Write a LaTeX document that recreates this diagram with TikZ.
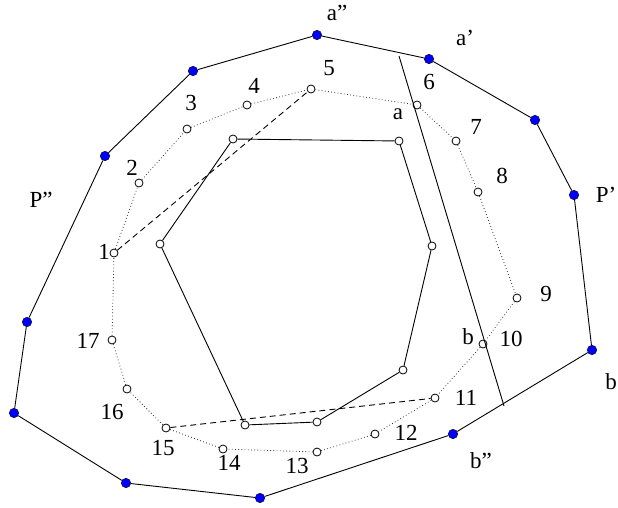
\documentclass[tikz,border=0pt]{standalone}
\usepackage{fontspec}
\setmainfont{Liberation Serif}
\begin{document}
\begin{tikzpicture}[x=1pt,y=-1pt,
 opendot/.style={circle,draw,fill=white,inner sep=0pt,minimum size=8pt,line width=0.8pt},
 bluedot/.style={circle,fill=blue,draw=black,line width=0.4pt,inner sep=0pt,minimum size=9.5pt},
 lbl/.style={font=\fontsize{23}{27}\selectfont,inner sep=0pt},
 edge/.style={line width=0.9pt},
 dotline/.style={line width=0.8pt,dash pattern=on 0.8pt off 2.4pt,draw=black!80},
 dashline/.style={line width=0.9pt,dash pattern=on 6pt off 4pt}]
\useasboundingbox (0,0) rectangle (618,508);
% outer polygon P''
\node[bluedot] (o1) at (317,35) {};
\node[bluedot] (o2) at (429,59) {};
\node[bluedot] (o3) at (535,120) {};
\node[bluedot] (o4) at (574,195) {};
\node[bluedot] (o5) at (592,350) {};
\node[bluedot] (o6) at (453,434) {};
\node[bluedot] (o7) at (260,498) {};
\node[bluedot] (o8) at (126,483) {};
\node[bluedot] (o9) at (14,413) {};
\node[bluedot] (o10) at (27,322) {};
\node[bluedot] (o11) at (105,156) {};
\node[bluedot] (o12) at (193,71) {};
\draw[edge] (o1)--(o2)--(o3)--(o4)--(o5)--(o6)--(o7)--(o8)--(o9)--(o10)--(o11)--(o12)--(o1);
% dotted polygon
\node[opendot] (p1) at (114,253) {};
\node[opendot] (p2) at (139,183) {};
\node[opendot] (p3) at (187,129) {};
\node[opendot] (p4) at (247,105) {};
\node[opendot] (p5) at (311,89) {};
\node[opendot] (p6) at (417,105) {};
\node[opendot] (p7) at (456,141) {};
\node[opendot] (p8) at (478,192) {};
\node[opendot] (p9) at (517,298) {};
\node[opendot] (p10) at (483,344) {};
\node[opendot] (p11) at (435,398) {};
\node[opendot] (p12) at (375,434) {};
\node[opendot] (p13) at (317,452) {};
\node[opendot] (p14) at (223,449) {};
\node[opendot] (p15) at (166,428) {};
\node[opendot] (p16) at (127,389) {};
\node[opendot] (p17) at (112,340) {};
\draw[dotline] (p1)--(p2)--(p3)--(p4)--(p5)--(p6)--(p7)--(p8)--(p9)--(p10)--(p11)--(p12)--(p13)--(p14)--(p15)--(p16)--(p17)--(p1);
\draw[dashline] (p1)--(p5);
\draw[dashline] (p15)--(p11);
% inner polygon
\node[opendot] (i1) at (233,139) {};
\node[opendot] (i2) at (399,141) {};
\node[opendot] (i3) at (432,246) {};
\node[opendot] (i4) at (403,370) {};
\node[opendot] (i5) at (317,422) {};
\node[opendot] (i6) at (245,425) {};
\node[opendot] (i7) at (160,244) {};
\draw[edge] (i1)--(i2)--(i3)--(i4)--(i5)--(i6)--(i7)--(i1);
% line a-b
\coordinate (la) at (399,56);
\coordinate (lb) at (504,406);
\draw[edge] (la)--(lb);
% labels
\node[lbl] (t1) at (104,252) {1};
\node[lbl] (t2) at (132,168) {2};
\node[lbl] (t3) at (191,103) {3};
\node[lbl] (t4) at (254,86) {4};
\node[lbl] (t5) at (329,68) {5};
\node[lbl] (t6) at (429,82) {6};
\node[lbl] (t7) at (476,127) {7};
\node[lbl] (t8) at (502,176) {8};
\node[lbl] (t9) at (546,294) {9};
\node[lbl] (t10) at (511,339) {10};
\node[lbl] (t11) at (466,398) {11};
\node[lbl] (t12) at (406,433) {12};
\node[lbl] (t13) at (297,466) {13};
\node[lbl] (t14) at (229,463) {14};
\node[lbl] (t15) at (163,448) {15};
\node[lbl] (t16) at (112,412) {16};
\node[lbl] (t17) at (88,341) {17};
\node[lbl] (ta2) at (337,13) {a''};
\node[lbl] (ta1) at (465,38) {a'};
\node[lbl] (tP1) at (606,195) {P'};
\node[lbl] (tP2) at (41,200) {P''};
\node[lbl] (tbo) at (611,382) {b};
\node[lbl] (tb2) at (481,461) {b''};
\node[lbl] (ta) at (398,114) {a};
\node[lbl] (tb) at (468,337) {b};
\end{tikzpicture}
\end{document}
